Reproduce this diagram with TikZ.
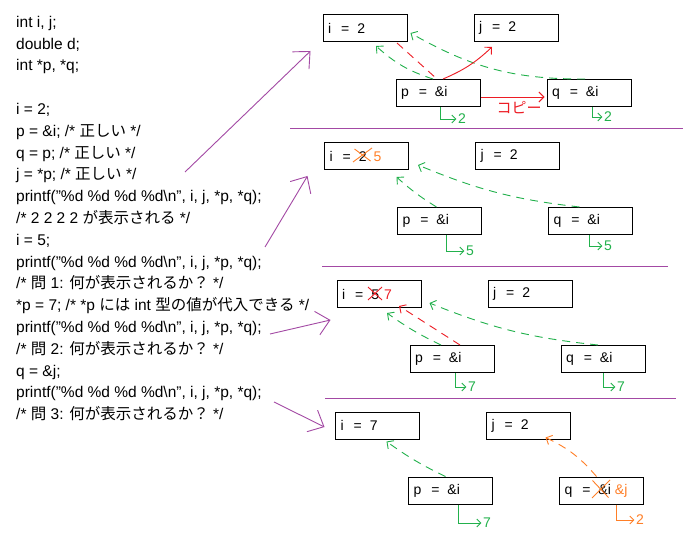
\documentclass[tikz,border=0pt]{standalone}
\usepackage{fontspec}
\setmainfont{Liberation Sans}
\newfontfamily\jp{Noto Sans CJK JP}
\usetikzlibrary{arrows.meta}
\definecolor{ptrGreen}{HTML}{22B14C}
\definecolor{copyRed}{HTML}{ED1C24}
\definecolor{newOrange}{HTML}{FF7F27}
\definecolor{linkPurple}{HTML}{A349A4}
\newcommand{\asg}{\hspace{10pt}=\hspace{8pt}}

\begin{document}
\begin{tikzpicture}[x=1pt,y=-1pt,
  codeline/.style={anchor=base west,inner sep=0pt,font=\fontsize{15.5}{18}\selectfont},
  box/.style={draw,line width=1pt,minimum height=27pt,text width=74pt,inner xsep=5pt,inner ysep=0pt,align=left,font=\fontsize{14}{15}\selectfont},
  val/.style={inner sep=1.5pt,font=\fontsize{14}{14}\selectfont},
  hook/.style={line width=0.9pt,-{Straight Barb[length=4pt,width=8pt]}},
  ptr/.style={line width=0.9pt,dash pattern=on 8pt off 6pt,-{Straight Barb[length=5pt,width=10pt]}},
  jump/.style={linkPurple,line width=0.9pt,-{Straight Barb[length=13pt,width=24pt]}},
  divider/.style={linkPurple,line width=1pt}]
\fill[white] (0,0) rectangle (693,545);
\useasboundingbox (0,0) rectangle (693,545);
% kaynak kod
\node[codeline] (c1) at (16,27.3) {int i, j;};
\node[codeline] (c2) at (16,49.1) {double d;};
\node[codeline] (c3) at (16,70.9) {int *p, *q;};
\node[codeline] (c5) at (16,114.5) {i = 2;};
\node[codeline] (c6) at (16,136.3) {p = \&i; /* {\jp 正しい} */};
\node[codeline] (c7) at (16,158.1) {q = p; /* {\jp 正しい} */};
\node[codeline] (c8) at (16,179.9) {j = *p; /* {\jp 正しい} */};
\node[codeline] (c9) at (16,201.7) {printf("\%d \%d \%d \%d\textbackslash n", i, j, *p, *q);};
\node[codeline] (c10) at (16,223.5) {/* 2 2 2 2 {\jp が表示される} */};
\node[codeline] (c11) at (16,245.3) {i = 5;};
\node[codeline] (c12) at (16,267.1) {printf("\%d \%d \%d \%d\textbackslash n", i, j, *p, *q);};
\node[codeline] (c13) at (16,288.9) {/* {\jp 問} 1: {\jp 何が表示されるか？} */};
\node[codeline] (c14) at (16,310.7) {*p = 7; /* *p {\jp には} int {\jp 型の値が代入できる} */};
\node[codeline] (c15) at (16,332.5) {printf("\%d \%d \%d \%d\textbackslash n", i, j, *p, *q);};
\node[codeline] (c16) at (16,354.3) {/* {\jp 問} 2: {\jp 何が表示されるか？} */};
\node[codeline] (c17) at (16,376.1) {q = \&j;};
\node[codeline] (c18) at (16,397.9) {printf("\%d \%d \%d \%d\textbackslash n", i, j, *p, *q);};
\node[codeline] (c19) at (16,419.7) {/* {\jp 問} 3: {\jp 何が表示されるか？} */};
% p = &i; q = p; j = *p;
\begin{scope}[shift={(365,28)}]
\node[box] (i1) at (0,0) {i\asg 2};
\node[box] (j1) at (151,0) {j\asg 2};
\node[box] (p1) at (73,65) {p\asg\&i};
\node[box] (q1) at (224,65) {q\asg\&i};
\draw[ptr,ptrGreen] ([xshift=-5pt]p1.north) to[bend left=12] ([xshift=11pt,yshift=-4pt]i1.south);
\draw[ptr,ptrGreen] ([xshift=-4pt]q1.north) to[bend left=15] ([xshift=3pt,yshift=-5pt]i1.east);
\draw[copyRed,line width=0.9pt,dash pattern=on 8pt off 6pt] ([xshift=32pt,yshift=-1pt]i1.south) -- ([xshift=-1pt]p1.north);
\draw[copyRed,line width=0.9pt,-{Straight Barb[length=5pt,width=10pt]}] ([xshift=5pt]p1.north) to[bend right=10] ([xshift=-24pt,yshift=-5pt]j1.south);
\draw[copyRed,line width=0.9pt,-{Straight Barb[length=5pt,width=10pt]}] ([yshift=-4pt]p1.east) -- ([xshift=-2pt,yshift=-4pt]q1.west);
\node[copyRed,font=\jp\fontsize{15}{15}\selectfont] (kopi1) at (154,80) {コピー};
\node[val,ptrGreen] (pv1) at (97,91) {2};
\draw[hook,ptrGreen] ([xshift=2pt]p1.south) |- (pv1.west);
\node[val,ptrGreen] (qv1) at (243,89) {2};
\draw[hook,ptrGreen] ([xshift=3pt]q1.south) |- (qv1.west);
\end{scope}
% i = 5;
\begin{scope}[shift={(366.5,156)}]
\node[box] (i2) at (0,0) {i\asg 2\hspace{7pt}{\color{newOrange}5}};
\node[box] (j2) at (151,0) {j\asg 2};
\node[box] (p2) at (73,65) {p\asg\&i};
\node[box] (q2) at (224,65) {q\asg\&i};
\draw[newOrange,line width=0.9pt] (-13.5,6) -- (5.5,-8) (-12,-7) -- (4,5);
\draw[ptr,ptrGreen] ([xshift=-3pt]p2.north) to[bend left=5] ([xshift=30pt,yshift=-7pt]i2.south);
\draw[ptr,ptrGreen] ([xshift=-11pt]q2.north) to[bend left=8] ([xshift=9pt,yshift=-9pt]i2.east);
\node[val,ptrGreen] (pv2) at (103.5,95) {5};
\draw[hook,ptrGreen] ([xshift=7pt]p2.south) |- (pv2.west);
\node[val,ptrGreen] (qv2) at (241.5,90) {5};
\draw[hook,ptrGreen] ([xshift=-1pt]q2.south) |- (qv2.west);
\end{scope}
% *p = 7;
\begin{scope}[shift={(379,294)}]
\node[box] (i3) at (0,0) {i\asg 5\hspace{5pt}{\color{copyRed}7}};
\node[box] (j3) at (151,0) {j\asg 2};
\node[box] (p3) at (73,65) {p\asg\&i};
\node[box] (q3) at (224,65) {q\asg\&i};
\draw[copyRed,line width=0.9pt] (-11,6) -- (3,-7) (-11,-7) -- (3,6);
\draw[ptr,ptrGreen] ([xshift=-11pt]p3.north) to[bend left=5] ([xshift=8pt,yshift=-5pt]i3.south);
\draw[ptr,copyRed] ([xshift=8pt]p3.north) -- ([xshift=20pt,yshift=2pt]i3.south);
\draw[ptr,ptrGreen] ([xshift=-5pt]q3.north) to[bend left=8] ([xshift=8pt,yshift=-9pt]i3.east);
\node[val,ptrGreen] (pv3) at (93,93) {7};
\draw[hook,ptrGreen] ([xshift=3.5pt]p3.south) |- (pv3.west);
\node[val,ptrGreen] (qv3) at (242,93) {7};
\draw[hook,ptrGreen] ([xshift=0.5pt]q3.south) |- (qv3.west);
\end{scope}
% q = &j;
\begin{scope}[shift={(377.5,425.5)}]
\node[box] (i4) at (0,0) {i\asg 7};
\node[box] (j4) at (151,0) {j\asg 2};
\node[box] (p4) at (73,65) {p\asg\&i};
\node[box] (q4) at (224,65) {q\asg\&i\hspace{4pt}{\color{newOrange}\&j}};
\draw[newOrange,line width=0.9pt] (214.5,72.5) -- (232.5,54.5) (215,55) -- (231,72);
\draw[ptr,ptrGreen] ([xshift=-5pt]p4.north) to[bend left=5] ([xshift=9pt,yshift=-2pt]i4.south);
\draw[ptr,newOrange] ([xshift=-5pt]q4.north) to[bend right=12] ([xshift=17pt,yshift=2pt]j4.south);
\node[val,ptrGreen] (pv4) at (109.5,97.5) {7};
\draw[hook,ptrGreen] ([xshift=7.5pt]p4.south) |- (pv4.west);
\node[val,newOrange] (qv4) at (262.5,94.5) {2};
\draw[hook,newOrange] ([xshift=14.5pt]q4.south) |- (qv4.west);
\end{scope}
% ayirici cizgiler
\draw[divider] (290,129) -- (683,129);
\draw[divider] (322,267) -- (668,267);
\draw[divider] (325,398) -- (676,398);
% koddan sekle
\coordinate (s1) at (185,172);
\coordinate (s2) at (265,247);
\coordinate (s3) at (270,334);
\coordinate (s4) at (274,402);
\coordinate (t1) at ([xshift=-12pt,yshift=-23pt]i1.west);
\coordinate (t2) at ([xshift=-16.5pt,yshift=-20pt]i2.west);
\coordinate (t3) at ([xshift=-6pt,yshift=-26pt]i3.west);
\coordinate (t4) at ([xshift=-10.5pt,yshift=-1.5pt]i4.west);
\draw[jump] (s1) -- (t1);
\draw[jump] (s2) -- (t2);
\draw[jump] (s3) -- (t3);
\draw[jump] (s4) -- (t4);
\end{tikzpicture}
\end{document}
